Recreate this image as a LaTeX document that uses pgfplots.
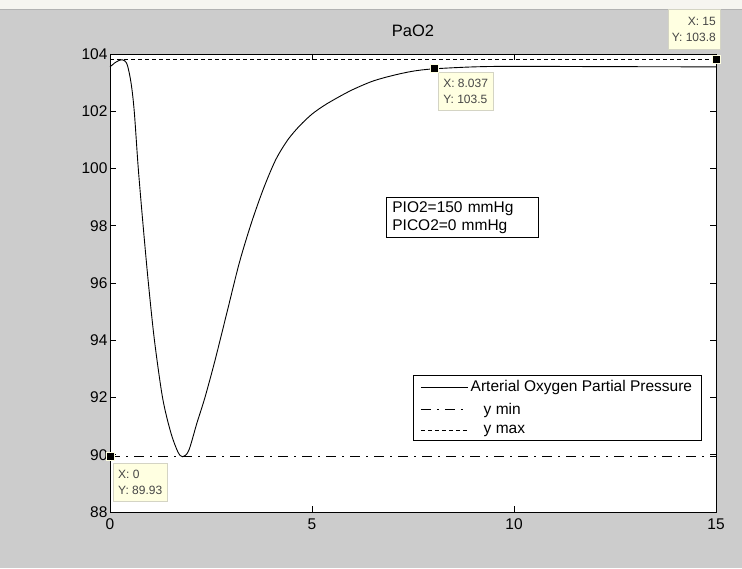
\documentclass[border=0pt]{standalone}
\usepackage{fontspec}
\setmainfont{Liberation Sans}
\usepackage{pgfplots}
\pgfplotsset{compat=1.18}
\definecolor{figgray}{RGB}{204,204,204}
\definecolor{tipfill}{RGB}{255,255,225}
\definecolor{tipdraw}{RGB}{212,212,196}
\definecolor{tiptext}{RGB}{70,70,70}
\definecolor{barfill}{RGB}{246,245,240}
\begin{document}
\begin{tikzpicture}[x=1pt,y=1pt]
\useasboundingbox (0,0) rectangle (742,568);
\fill[figgray] (0,0) rectangle (742,568);
\fill[barfill] (0,559) rectangle (742,568);
\draw[gray!60] (0,559) -- (742,559);
\begin{axis}[
  at={(110pt,56pt)}, anchor=south west,
  scale only axis, width=606pt, height=458pt,
  xmin=0, xmax=15, ymin=88, ymax=104,
  xtick={0,5,10,15}, ytick={88,90,...,104},
  tick align=inside, major tick length=6pt,
  axis line style={black, line width=0.9pt},
  tick style={black, line width=0.9pt},
  axis background/.style={fill=white},
  clip=false,
  font=\fontsize{15.5}{18}\selectfont,
  tick label style={font=\fontsize{15.5}{18}\selectfont},
  yticklabel style={xshift=1pt},
  xticklabel style={yshift=-3pt},
  /pgf/number format/assume math mode=true,
  title={PaO2},
  title style={at={(0.5,1)}, anchor=base, yshift=11pt, font=\fontsize{16.5}{19}\selectfont},
  legend style={at={(0.977,0.155)}, anchor=south east, draw=black, fill=white,
    line width=0.9pt, inner xsep=7pt, inner ysep=3pt, row sep=4.5pt,
    nodes={inner sep=2.5pt},
    font=\fontsize{15.5}{18}\selectfont},
  legend cell align=left,
  legend image code/.code={\draw[#1] (0pt,0pt) -- (47pt,0pt);},
]
\addplot[black, line width=0.9pt, smooth, tension=0.5] coordinates {
 (0,103.55) (0.15,103.72) (0.3,103.8) (0.42,103.65) (0.52,103.0)
 (0.6,102.0) (0.7,100.0) (0.82,98.0) (0.95,96.0) (1.1,94.0)
 (1.3,92.0) (1.5,90.8) (1.68,90.1) (1.8,89.93) (1.95,90.15)
 (2.15,91.1) (2.35,92.0) (2.6,93.3) (2.9,95.0) (3.2,96.7)
 (3.5,98.1) (3.8,99.3) (4.1,100.3) (4.4,101.0) (4.7,101.5)
 (5.0,101.9) (5.3,102.2) (5.6,102.45) (6.0,102.75) (6.5,103.05)
 (7.0,103.25) (7.5,103.4) (8.0,103.48) (9.0,103.55) (10.0,103.57)
 (12.0,103.56) (15.0,103.55)};
\addlegendentry{Arterial Oxygen Partial Pressure}
\addplot[black, line width=0.9pt, dash pattern=on 10pt off 6pt on 2pt off 6pt] coordinates {(0,89.93) (15,89.93)};
\addlegendentry{\hspace*{13pt}y min}
\addplot[black, line width=0.9pt, dash pattern=on 4pt off 3pt] coordinates {(0,103.8) (15,103.8)};
\addlegendentry{\hspace*{13pt}y max}
\addplot[only marks, mark=square*, mark size=4pt, mark options={fill=black, draw=tipfill, line width=0.8pt}, forget plot] coordinates {(0,89.93) (8.037,103.5) (15,103.8)};
\node[anchor=north west, draw=tipdraw, fill=tipfill, text=tiptext, align=left,
  inner xsep=5pt, inner ysep=7pt, font=\fontsize{12}{15.5}\selectfont]
  at (axis cs:0.074,89.7) {X: 0\\Y: 89.93};
\node[anchor=north west, draw=tipdraw, fill=tipfill, text=tiptext, align=left,
  inner xsep=5pt, inner ysep=7pt, font=\fontsize{12}{15.5}\selectfont]
  at (axis cs:8.12,103.37) {X: 8.037\\Y: 103.5};
\node[anchor=north east, draw=tipdraw, fill=tipfill, text=tiptext, align=right,
  inner xsep=4pt, inner ysep=8pt, font=\fontsize{12}{15.5}\selectfont]
  at (axis cs:15.1,105.57) {X: 15\\Y: 103.8};
\node[anchor=north west, draw=black, line width=0.9pt, fill=white, align=left,
  text width=140pt, inner xsep=6pt, inner ysep=4pt, font=\fontsize{15.5}{18}\selectfont]
  at (axis cs:6.83,99.0) {PIO2=150 mmHg\\PICO2=0 mmHg};
\end{axis}
\end{tikzpicture}
\end{document}
